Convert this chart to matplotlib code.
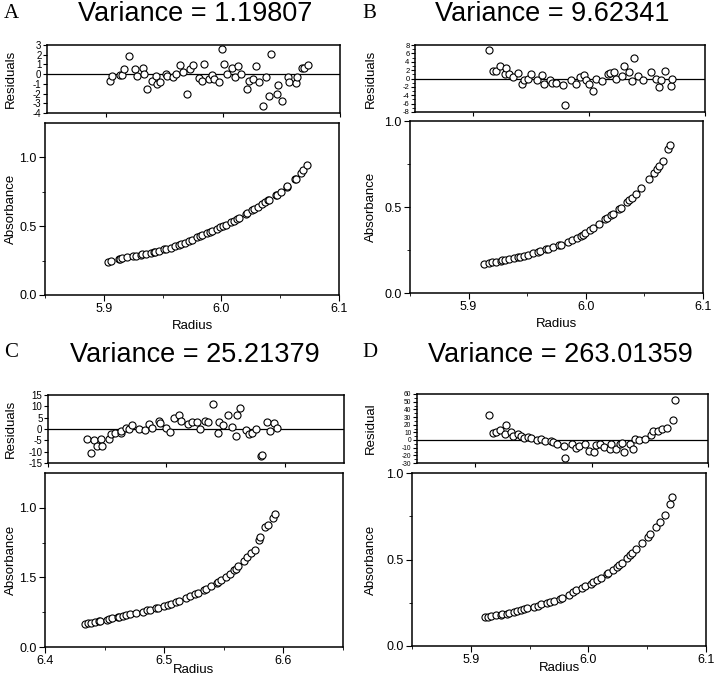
import matplotlib
matplotlib.use("Agg")
import matplotlib.pyplot as plt
from matplotlib.ticker import MultipleLocator, FixedLocator

plt.rcParams['font.family'] = ['Liberation Sans', 'DejaVu Sans']

# ---------------- Panel A ----------------
a_radius = [5.9037, 5.9057, 5.9127, 5.9136, 5.9158, 5.9198, 5.9248, 5.9271, 5.9319, 5.9328,
            5.9356, 5.9398, 5.9426, 5.9435, 5.9466, 5.9514, 5.9525, 5.9573, 5.9604, 5.9638,
            5.9658, 5.9692, 5.9723, 5.9746, 5.9794, 5.9822, 5.9836, 5.9879, 5.9904, 5.9921,
            5.9964, 5.9992, 6.0011, 6.0040, 6.0079, 6.0108, 6.0133, 6.0153, 6.0210, 6.0220,
            6.0260, 6.0280, 6.0308, 6.0345, 6.0371, 6.0396, 6.0407, 6.0464, 6.0472, 6.0503,
            6.0554, 6.0561, 6.0624, 6.0632, 6.0680, 6.0697, 6.0726]
a_resid = [-0.69, -0.2, -0.1, -0.07, 0.48, 1.9, 0.52, -0.17, 0.59, 0.03,
           -1.48, -0.66, -0.2, -1.03, -0.76, 0.0, -0.24, -0.28, 0.03, 0.93,
           0.17, -2.0, 0.52, 0.97, -0.38, -0.69, 1.03, -0.55, -0.07, -0.55,
           -0.83, 2.55, 1.0, 0.03, 0.59, -0.34, 0.86, 0.0, -1.48, -0.72,
           -0.55, 0.83, -0.76, -3.24, -0.31, -2.28, 2.07, -2.0, -1.07, -2.72,
           -0.31, -0.79, -0.9, -0.34, 0.62, 0.66, 0.93]
a_abs = [0.24, 0.245, 0.26, 0.262, 0.267, 0.275, 0.283, 0.287, 0.294, 0.296,
         0.300, 0.306, 0.312, 0.314, 0.321, 0.332, 0.334, 0.345, 0.353, 0.363,
         0.369, 0.38, 0.39, 0.398, 0.418, 0.428, 0.433, 0.449, 0.458, 0.464,
         0.48, 0.491, 0.498, 0.51, 0.528, 0.54, 0.552, 0.562, 0.59, 0.595,
         0.615, 0.626, 0.64, 0.66, 0.674, 0.688, 0.694, 0.725, 0.73, 0.748,
         0.785, 0.79, 0.84, 0.846, 0.89, 0.91, 0.945]

# ---------------- Panel B ----------------
b_radius = [5.9134, 5.9174, 5.9199, 5.9237, 5.9276, 5.9288, 5.9314, 5.9345, 5.9385, 5.9422,
            5.9442, 5.9476, 5.9504, 5.9550, 5.9592, 5.9613, 5.9661, 5.9681, 5.9718, 5.9775,
            5.9789, 5.9846, 5.9886, 5.9926, 5.9955, 5.9972, 5.9997, 6.0037, 6.0060, 6.0114,
            6.0168, 6.0182, 6.0216, 6.0233, 6.0282, 6.0299, 6.0348, 6.0368, 6.0391, 6.0425,
            6.0467, 6.0538, 6.0581, 6.0604, 6.0624, 6.0656, 6.0703, 6.0715]
b_resid = [6.72, 1.68, 1.68, 2.96, 1.04, 2.48, 0.96, 0.4, 1.2, -1.2,
           -0.4, 0.0, 1.04, -0.24, 0.8, -1.28, -0.24, -1.04, -1.04, -1.6,
           -6.24, -0.24, -1.28, 0.4, 0.72, -0.4, -1.28, -2.96, -0.08, -0.56,
           1.12, 1.2, 1.52, -0.08, 0.56, 2.96, 1.6, -0.56, 4.8, 0.56,
           -0.4, 1.6, 0.0, -2.08, -0.4, 1.68, -1.84, 0.0]
b_abs = [0.168, 0.174, 0.178, 0.183, 0.188, 0.19, 0.193, 0.197, 0.202, 0.207,
         0.210, 0.216, 0.222, 0.23, 0.239, 0.243, 0.253, 0.258, 0.266, 0.277,
         0.279, 0.295, 0.307, 0.322, 0.333, 0.34, 0.351, 0.367, 0.376, 0.40,
         0.428, 0.435, 0.452, 0.46, 0.487, 0.497, 0.527, 0.54, 0.555, 0.577,
         0.61, 0.665, 0.70, 0.72, 0.74, 0.77, 0.84, 0.86]

# ---------------- Panel C ----------------
c_radius = [6.4333, 6.4361, 6.4389, 6.4418, 6.4451, 6.4460, 6.4518, 6.4535, 6.4563, 6.4613,
            6.4619, 6.4655, 6.4683, 6.4712, 6.4765, 6.4818, 6.4855, 6.4882, 6.4935, 6.4944,
            6.4997, 6.5031, 6.5061, 6.5103, 6.5124, 6.5182, 6.5213, 6.5258, 6.5280, 6.5330,
            6.5353, 6.5392, 6.5439, 6.5448, 6.5476, 6.5518, 6.5552, 6.5588, 6.5599, 6.5622,
            6.5670, 6.5695, 6.5725, 6.5759, 6.5796, 6.5807, 6.5849, 6.5874, 6.5910, 6.5930]
c_resid = [-4.26, -10.4, -4.85, -7.5, -4.26, -7.5, -4.26, -2.06, -1.6, -1.6,
           -0.7, 0.44, -0.15, 1.76, 0.15, -0.44, 2.35, 0.59, 3.38, 2.8,
           0.44, -1.32, 4.85, 6.3, 3.53, 2.35, 3.1, 3.1, 0.15, 3.68,
           3.1, 11.0, -1.9, 3.1, 1.6, 6.2, 1.0, -3.1, 6.0, 9.1,
           -0.44, -2.35, -1.6, 0.15, -11.9, -11.6, 3.2, -0.88, 2.8, 0.3]
c_abs = [0.167, 0.171, 0.175, 0.179, 0.184, 0.186, 0.197, 0.200, 0.205, 0.213,
         0.214, 0.222, 0.228, 0.234, 0.245, 0.255, 0.263, 0.268, 0.28, 0.282,
         0.294, 0.303, 0.312, 0.325, 0.332, 0.354, 0.364, 0.38, 0.39, 0.41,
         0.42, 0.437, 0.46, 0.464, 0.48, 0.505, 0.528, 0.552, 0.56, 0.58,
         0.62, 0.645, 0.672, 0.70, 0.77, 0.79, 0.86, 0.88, 0.93, 0.955]

# ---------------- Panel D ----------------
d_radius = [5.9118, 5.9150, 5.9175, 5.9217, 5.9254, 5.9268, 5.9304, 5.9324, 5.9366, 5.9395,
            5.9423, 5.9456, 5.9479, 5.9535, 5.9569, 5.9598, 5.9648, 5.9670, 5.9704, 5.9761,
            5.9772, 5.9831, 5.9868, 5.9896, 5.9947, 5.9975, 6.0020, 6.0042, 6.0071, 6.0105,
            6.0156, 6.0167, 6.0211, 6.0240, 6.0262, 6.0282, 6.0330, 6.0353, 6.0372, 6.0409,
            6.0460, 6.0507, 6.0527, 6.0572, 6.0606, 6.0649, 6.0697, 6.0713]
d_resid = [32.3, 9.3, 10.6, 12.8, 7.5, 19.0, 10.2, 4.9, 8.4, 4.9,
           2.65, 3.5, 2.2, 0.44, 1.3, -1.8, -1.8, -3.1, -4.9, -7.5,
           -23.9, -4.9, -10.6, -8.4, -4.9, -13.7, -15.5, -7.1, -5.3, -9.7,
           -11.9, -5.3, -11.1, -5.75, -4.0, -15.0, -4.9, -11.1, 1.3, 0.0,
           0.9, 6.2, 11.1, 11.1, 13.7, 15.5, 26.5, 51.8]
d_abs = [0.166, 0.170, 0.174, 0.178, 0.182, 0.183, 0.187, 0.19, 0.196, 0.201,
         0.206, 0.213, 0.218, 0.228, 0.234, 0.24, 0.249, 0.253, 0.26, 0.274,
         0.277, 0.296, 0.31, 0.322, 0.338, 0.347, 0.36, 0.368, 0.38, 0.395,
         0.418, 0.423, 0.442, 0.456, 0.468, 0.48, 0.508, 0.524, 0.536, 0.56,
         0.595, 0.63, 0.645, 0.685, 0.715, 0.755, 0.82, 0.86]

letters = ["A", "B", "C", "D"]
titles = ["Variance = 1.19807", "Variance = 9.62341", "Variance = 25.21379", "Variance = 263.01359"]
resid_labels = ["Residuals", "Residuals", "Residuals", "Residual"]

W, H = 717, 676
fig = plt.figure(figsize=(W / 100, H / 100), dpi=100)


def box(x0, y0, x1, y1):
    return [x0 / W, 1 - y1 / H, (x1 - x0) / W, (y1 - y0) / H]


panels = [
    dict(radius=a_radius, resid=a_resid, absb=a_abs,
         rbox=box(47, 45, 340, 113), abox=box(45, 123, 339, 295),
         xlim=(5.85, 6.1), xt=[5.9, 6.0, 6.1], xtl=["5.9", "6.0", "6.1"],
         rylim=(-4, 3), ryt=list(range(-4, 4)), rymin=None, rfs=7,
         aylim=(0, 1.25), ayt=[0.0, 0.5, 1.0], aytl=["0.0", "0.5", "1.0"],
         tx=195, ty=14, lx=4, ly=13, radius_y=326),
    dict(radius=b_radius, resid=b_resid, absb=b_abs,
         rbox=box(415, 45, 705, 112), abox=box(410, 121, 703, 293),
         xlim=(5.85, 6.1), xt=[5.9, 6.0, 6.1], xtl=["5.9", "6.0", "6.1"],
         rylim=(-8, 8), ryt=list(range(-8, 9, 2)), rymin=1, rfs=5.5,
         aylim=(0, 1.0), ayt=[0.0, 0.5, 1.0], aytl=["0.0", "0.5", "1.0"],
         tx=552, ty=14, lx=362, ly=13, radius_y=324),
    dict(radius=c_radius, resid=c_resid, absb=c_abs,
         rbox=box(48, 395, 344, 463), abox=box(45, 473, 343, 647),
         xlim=(6.4, 6.65), xt=[6.4, 6.5, 6.6], xtl=["6.4", "6.5", "6.6"],
         rylim=(-15, 15), ryt=list(range(-15, 16, 5)), rymin=None, rfs=7,
         aylim=(0, 1.25), ayt=[0.0, 0.5, 1.0], aytl=["0.0", "1.5", "1.0"],
         tx=195, ty=355, lx=4, ly=353, radius_y=670),
    dict(radius=d_radius, resid=d_resid, absb=d_abs,
         rbox=box(417, 394, 708, 463), abox=box(412, 473, 706, 646),
         xlim=(5.85, 6.1), xt=[5.9, 6.0, 6.1], xtl=["5.9", "6.0", "6.1"],
         rylim=(-30, 60), ryt=list(range(-30, 61, 10)), rymin=5, rfs=4.8,
         aylim=(0, 1.0), ayt=[0.0, 0.5, 1.0], aytl=["0.0", "0.5", "1.0"],
         tx=560, ty=355, lx=362, ly=353, radius_y=668),
]

mk = dict(s=26, facecolors='white', edgecolors='black', linewidths=0.8, zorder=3)

for i, p in enumerate(panels):
    # residual axes
    ar = fig.add_axes(p['rbox'])
    ar.scatter(p['radius'], p['resid'], **mk)
    ar.axhline(0, color='black', lw=0.9, zorder=2)
    ar.set_xlim(*p['xlim'])
    ar.set_ylim(*p['rylim'])
    ar.set_xticks(p['xt'])
    ar.set_xticklabels([])
    ar.set_yticks(p['ryt'])
    ar.set_yticklabels([str(v) for v in p['ryt']], fontsize=p['rfs'])
    if p['rymin']:
        ar.yaxis.set_minor_locator(MultipleLocator(p['rymin']))
    ar.tick_params(axis='both', which='major', direction='out', length=3, width=0.8, pad=1)
    ar.tick_params(axis='both', which='minor', direction='out', length=2, width=0.6)
    for s in ar.spines.values():
        s.set_linewidth(1.1)
    ar.set_ylabel(resid_labels[i], fontsize=9.5)
    base = 17 if i in (0, 2) else 377
    ar.yaxis.set_label_coords((base - p['rbox'][0] * W) / (p['rbox'][2] * W), 0.5)

    # absorbance axes
    aa = fig.add_axes(p['abox'])
    aa.scatter(p['radius'], p['absb'], **mk)
    aa.set_xlim(*p['xlim'])
    aa.set_ylim(*p['aylim'])
    aa.set_xticks(p['xt'])
    aa.set_xticklabels(p['xtl'], fontsize=9)
    aa.xaxis.set_minor_locator(MultipleLocator(0.05))
    aa.set_yticks(p['ayt'])
    aa.set_yticklabels(p['aytl'], fontsize=9)
    aa.yaxis.set_minor_locator(FixedLocator([0.25, 0.75]))
    aa.tick_params(axis='both', which='major', direction='out', length=4, width=0.8, pad=2)
    aa.tick_params(axis='both', which='minor', direction='out', length=2, width=0.6)
    for s in aa.spines.values():
        s.set_linewidth(1.1)
    aa.set_ylabel("Absorbance", fontsize=9.5)
    aa.yaxis.set_label_coords((base - p['abox'][0] * W) / (p['abox'][2] * W), 0.5)
    fig.text(p['abox'][0] + p['abox'][2] / 2, 1 - p['radius_y'] / H, "Radius",
             fontsize=9.5, ha='center', va='center')

    # titles and letters
    fig.text(p['tx'] / W, 1 - p['ty'] / H, titles[i], fontsize=19.5, ha='center', va='center')
    fig.text(p['lx'] / W, 1 - p['ly'] / H, letters[i], fontsize=15, ha='left', va='center',
             family=['Liberation Serif', 'DejaVu Serif'])

fig.savefig("out.png", dpi=100)
